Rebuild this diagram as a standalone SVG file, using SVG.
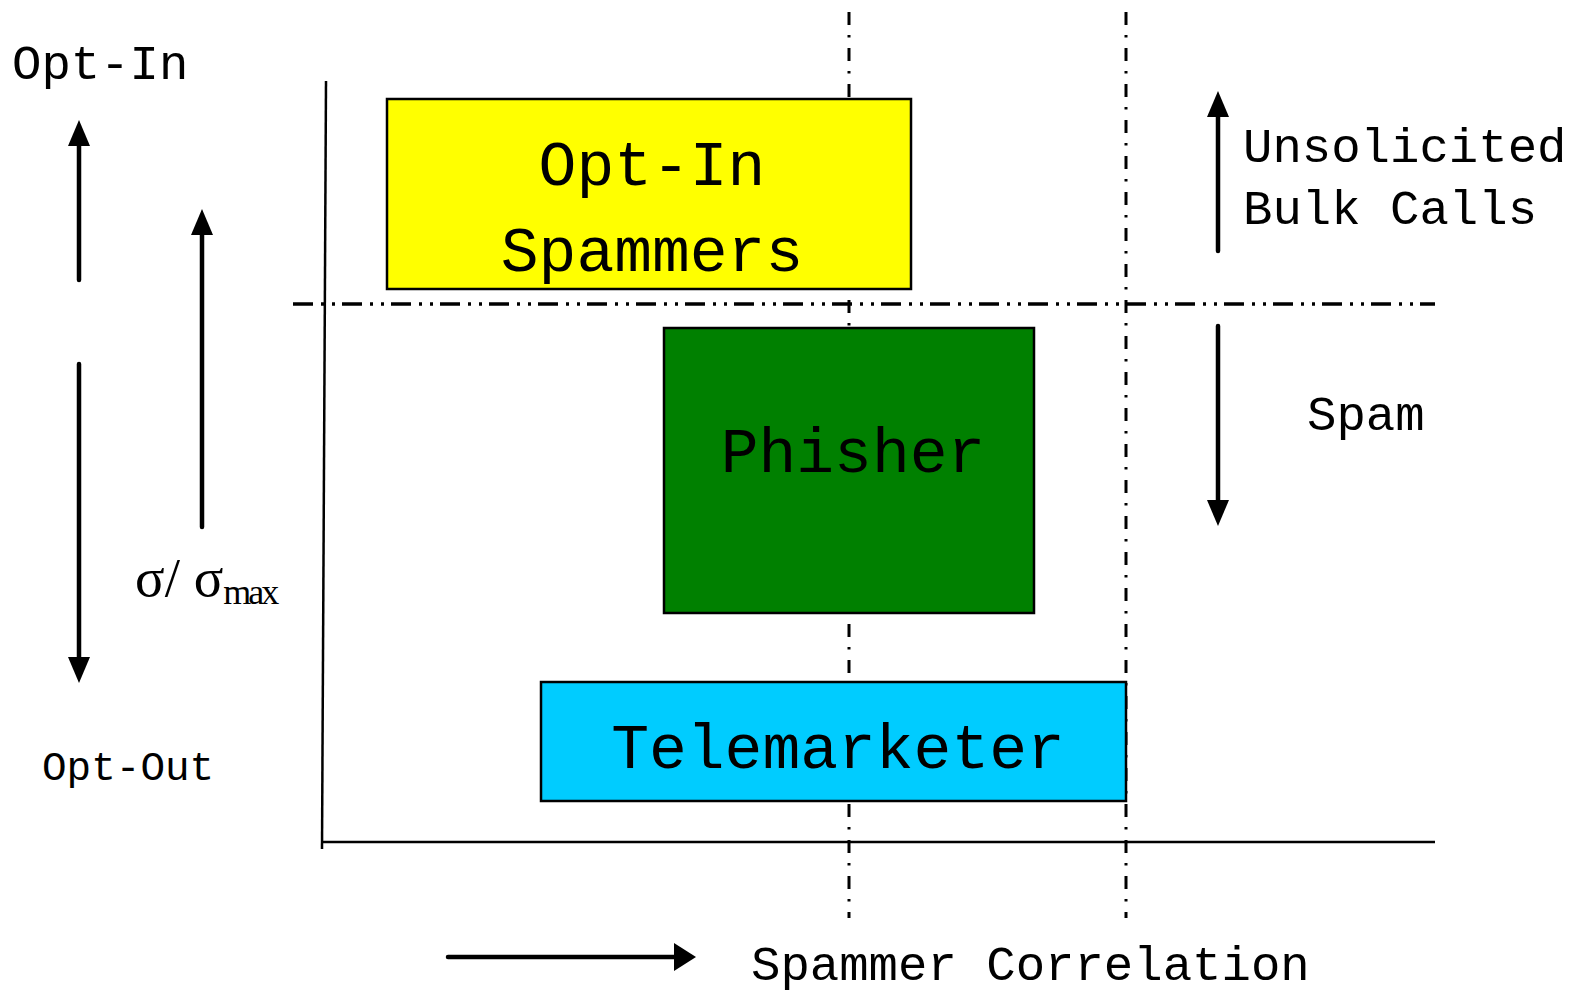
<svg xmlns="http://www.w3.org/2000/svg" width="1585" height="995" viewBox="0 0 1585 995">
  <defs>
    <style>
      .mono { font-family: "Liberation Mono", "Courier New", monospace; fill: #000; }
      .serif { font-family: "Liberation Serif", "Times New Roman", serif; fill: #000; }
      .box { stroke: #000; stroke-width: 2.5; }
      .shaft { stroke: #000; stroke-width: 4.5; stroke-linecap: round; fill: none; }
      .axis { stroke: #000; stroke-width: 2.5; fill: none; }
      .vdiv { stroke: #000; stroke-width: 3; fill: none; stroke-dasharray: 13 10 2.5 10.5; }
      .hdiv { stroke: #000; stroke-width: 3.5; fill: none; stroke-dasharray: 20 8 3 8 3 7; }
    </style>
    <marker id="head" markerUnits="userSpaceOnUse" markerWidth="26" markerHeight="22" refX="0" refY="11" orient="auto">
      <path d="M0,0 L26,11 L0,22 Z" fill="#000"/>
    </marker>
    <marker id="headH" markerUnits="userSpaceOnUse" markerWidth="22" markerHeight="28" refX="0" refY="14" orient="auto">
      <path d="M0,0 L22,14 L0,28 Z" fill="#000"/>
    </marker>
  </defs>

  <rect width="1585" height="995" fill="#fff"/>

  <!-- dash-dot dividers (drawn first so the boxes sit on top) -->
  <g id="dividers">
    <line class="vdiv" x1="849" y1="12" x2="849" y2="918"/>
    <line class="vdiv" x1="1126" y1="12" x2="1126" y2="918"/>
    <line class="hdiv" x1="293" y1="304" x2="1435" y2="304"/>
  </g>

  <!-- axes -->
  <g id="axes">
    <line class="axis" x1="326" y1="81" x2="322" y2="849"/>
    <line class="axis" x1="323" y1="842" x2="1435" y2="842"/>
  </g>

  <!-- category boxes -->
  <g id="opt-in-spammers">
    <rect class="box" x="387" y="99" width="524" height="190" fill="#ffff00"/>
    <text class="mono" x="652" y="185" font-size="63" text-anchor="middle">Opt-In</text>
    <text class="mono" x="652" y="271" font-size="63" text-anchor="middle">Spammers</text>
  </g>

  <g id="phisher">
    <rect class="box" x="664" y="328" width="370" height="285" fill="#008000"/>
    <text class="mono" x="853" y="472" font-size="63" text-anchor="middle">Phisher</text>
  </g>

  <g id="telemarketer">
    <rect class="box" x="541" y="682" width="585" height="119" fill="#00ccff"/>
    <text class="mono" x="838" y="768" font-size="63" text-anchor="middle">Telemarketer</text>
  </g>

  <!-- direction arrows -->
  <g id="connectors">
    <line class="shaft" x1="79" y1="280" x2="79" y2="146" marker-end="url(#head)"/>
    <line class="shaft" x1="202" y1="527" x2="202" y2="235" marker-end="url(#head)"/>
    <line class="shaft" x1="79" y1="364" x2="79" y2="657" marker-end="url(#head)"/>
    <line class="shaft" x1="1218" y1="251" x2="1218" y2="117" marker-end="url(#head)"/>
    <line class="shaft" x1="1218" y1="326" x2="1218" y2="500" marker-end="url(#head)"/>
    <line class="shaft" x1="448" y1="957" x2="674" y2="957" marker-end="url(#headH)"/>
  </g>

  <!-- labels -->
  <g id="label-opt-in">
    <text class="mono" x="12" y="79" font-size="49">Opt-In</text>
  </g>
  <g id="label-opt-out">
    <text class="mono" x="42" y="780" font-size="41">Opt-Out</text>
  </g>
  <g id="label-sigma">
    <text class="serif" x="135" y="596" font-size="55">σ/ σ<tspan font-size="36" dy="8" letter-spacing="-3">max</tspan></text>
  </g>
  <g id="label-unsolicited">
    <text class="mono" x="1243" y="162" font-size="49">Unsolicited</text>
    <text class="mono" x="1243" y="224" font-size="49">Bulk Calls</text>
  </g>
  <g id="label-spam">
    <text class="mono" x="1307" y="430" font-size="49">Spam</text>
  </g>
  <g id="label-correlation">
    <text class="mono" x="751" y="980" font-size="49">Spammer Correlation</text>
  </g>
</svg>
